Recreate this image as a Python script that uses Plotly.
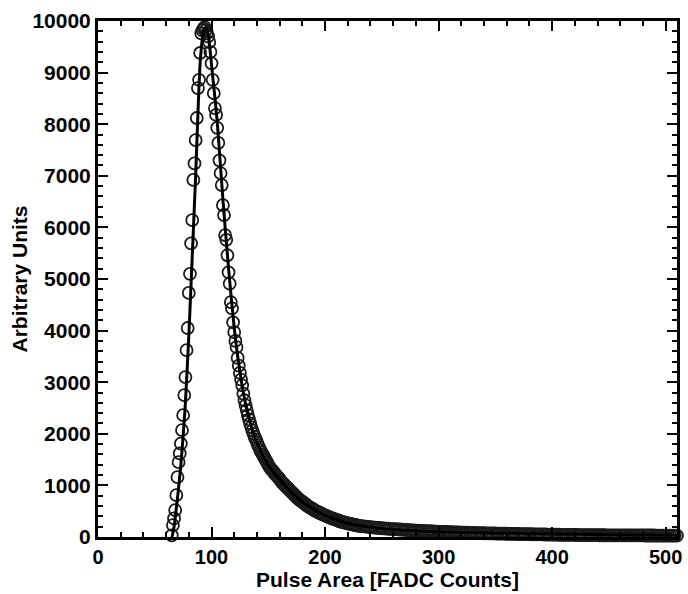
import plotly.graph_objects as go

# ---- measured data (pulse-area bins, integer FADC counts) ----
rise_x = list(range(65, 94))
rise_y = [30, 230, 360, 520, 810, 1160, 1450, 1620, 1810, 2070,
          2360, 2750, 3100, 3620, 4050, 4730, 5100, 5690, 6140, 6920,
          7240, 7690, 8120, 8700, 8860, 9380, 9760, 9820, 9850]

decay_x = list(range(94, 231))
decay_y = [9880, 9820, 9760, 9700, 9590, 9400, 9180, 8860, 8600, 8310,
           8180, 7930, 7640, 7300, 7050, 6820, 6430, 6240, 5850, 5760,
           5460, 5130, 4910, 4550, 4430, 4160, 3970, 3800, 3680, 3470,
           3320, 3180, 3050, 2940, 2780, 2650, 2550, 2460, 2360, 2280,
           2200, 2130, 2060, 2000, 1940, 1890, 1840, 1780, 1730, 1680,
           1640, 1600, 1560, 1520, 1480, 1440, 1400, 1360, 1330, 1300,
           1280, 1250, 1220, 1200, 1170, 1150, 1120, 1090, 1060, 1040,
           1020, 990, 970, 950, 930, 900, 880, 860, 840, 810,
           790, 770, 750, 730, 710, 700, 680, 660, 650, 630,
           610, 600, 580, 570, 560, 540, 530, 510, 500, 490,
           480, 470, 460, 450, 440, 430, 420, 410, 400, 390,
           380, 370, 360, 355, 345, 340, 330, 320, 315, 305,
           300, 295, 290, 285, 275, 270, 265, 260, 255, 250,
           245, 240, 235, 230, 225, 220, 215]

tail_x = list(range(232, 511, 2))
tail_y = [210, 205, 200, 195, 190, 185, 182, 178, 174, 170,
          166, 163, 160, 157, 154, 151, 148, 145, 142, 139,
          136, 133, 130, 127, 124, 122, 120, 118, 115, 113,
          111, 109, 107, 105, 103, 101, 99, 97, 96, 94,
          92, 91, 89, 88, 86, 85, 83, 82, 80, 79,
          78, 77, 75, 74, 73, 72, 71, 70, 69, 68,
          67, 66, 65, 64, 63, 62, 61, 60, 59, 58,
          57, 56, 55, 54, 54, 53, 52, 51, 50, 49,
          49, 48, 47, 46, 46, 45, 44, 44, 43, 42,
          42, 41, 40, 40, 39, 39, 38, 38, 37, 37,
          36, 36, 35, 35, 35, 34, 34, 34, 33, 33,
          33, 33, 32, 32, 32, 32, 31, 31, 31, 31,
          30, 30, 30, 30, 30, 29, 29, 29, 29, 29,
          28, 28, 28, 28, 28, 28, 27, 27, 27, 27]

# ---- fitted curve ----
fit_x = [64, 65, 67, 70, 73, 76.6, 80, 82.5, 86, 90, 93, 95, 97, 100,
         105, 110, 115, 120, 125, 130, 137, 143, 151, 163, 178, 196,
         219, 250, 300, 350, 400, 450, 510]
fit_y = [0, 0, 200, 750, 1400, 2450, 3900, 5170, 7000, 9200, 9800, 9880,
         9750, 9150, 8050, 6550, 5200, 4050, 3200, 2580, 2000, 1680, 1360,
         1040, 710, 460, 270, 165, 100, 75, 58, 45, 33]

data_x = rise_x + decay_x + tail_x
data_y = rise_y + decay_y + tail_y

x_ticks = [0, 100, 200, 300, 400, 500]
y_ticks = [0, 1000, 2000, 3000, 4000, 5000, 6000, 7000, 8000, 9000, 10000]

FONT = "Liberation Sans, Arial, sans-serif"

fig = go.Figure()
fig.add_trace(go.Scatter(
    x=data_x, y=data_y, mode="markers", cliponaxis=False,
    marker=dict(symbol="circle-open", size=12, color="#1a1a1a",
                line=dict(width=1.8, color="#1a1a1a")),
    showlegend=False))
fig.add_trace(go.Scatter(
    x=fit_x, y=fit_y, mode="lines", cliponaxis=False,
    line=dict(color="black", width=3, shape="spline", smoothing=0.6),
    showlegend=False))

axis_common = dict(
    showline=True, linecolor="black", linewidth=3, mirror="allticks",
    ticks="inside", ticklen=10, tickwidth=2, tickcolor="black",
    showgrid=False, zeroline=False, ticklabeloverflow="allow",
)

fig.update_xaxes(
    range=[0, 510], tickvals=x_ticks, ticktext=[str(v) for v in x_ticks],
    automargin="bottom",
    tickfont=dict(family=FONT, size=20, color="black", weight="bold"),
    minor=dict(ticks="inside", ticklen=5, tickwidth=2, tickcolor="black", dtick=20, tick0=0),
    title=dict(text="<b>Pulse Area [FADC Counts]</b>", standoff=0,
               font=dict(family=FONT, size=21, color="black")),
    **axis_common)
fig.update_yaxes(
    range=[0, 10000], tickvals=y_ticks, ticktext=[str(v) for v in y_ticks],
    automargin="left",
    tickfont=dict(family=FONT, size=21, color="black", weight="bold"),
    minor=dict(ticks="inside", ticklen=5, tickwidth=2, tickcolor="black", dtick=200, tick0=0),
    title=dict(text="<b>Arbitrary Units</b>", standoff=0,
               font=dict(family=FONT, size=21, color="black")),
    **axis_common)

fig.update_layout(
    width=688, height=594,
    margin=dict(l=98, r=11, t=21, b=57),
    paper_bgcolor="white", plot_bgcolor="white",
)

# remove the page's default body margin so the 688x594 figure fills the window exactly
fig.write_html(
    "out.html",
    config={"displayModeBar": False},
    post_script="document.body.style.margin='0';document.body.style.overflow='hidden';",
)
